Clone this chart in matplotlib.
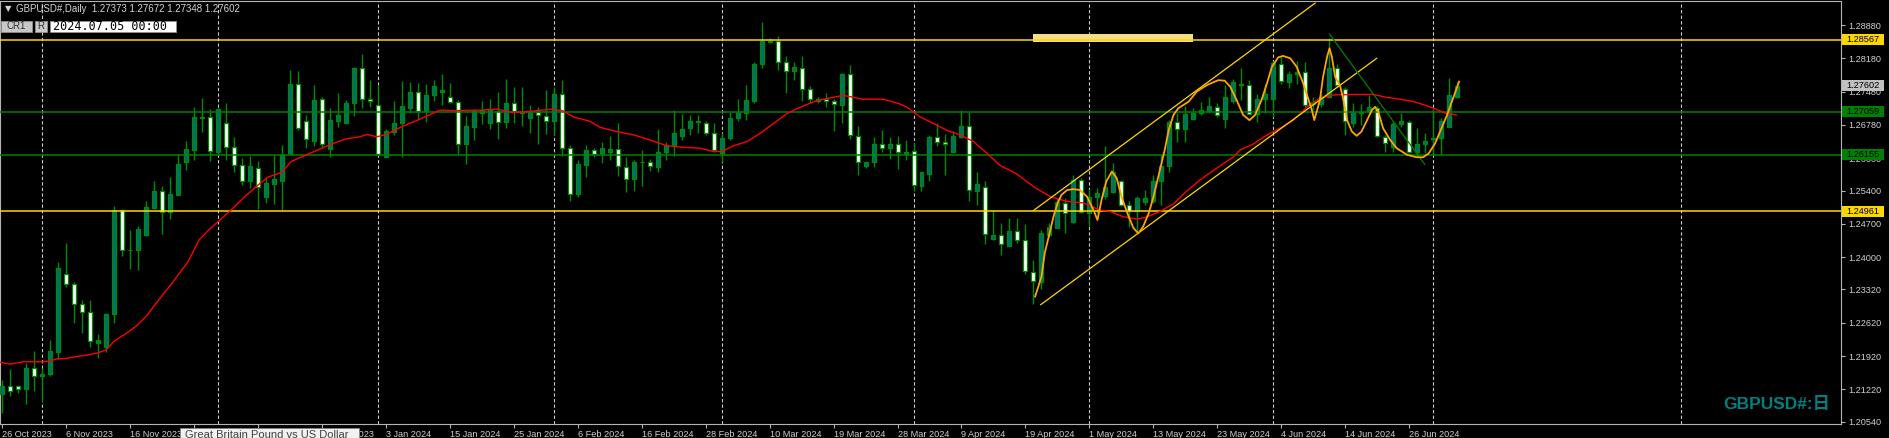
import matplotlib
matplotlib.use('Agg')
import matplotlib.pyplot as plt
import matplotlib.transforms as mtransforms
from matplotlib.patches import Rectangle
import numpy as np

# daily GBPUSD# candles, 26 Oct 2023 .. 5 Jul 2024
opens = [1.2112, 1.2128, 1.2128, 1.2122, 1.2166, 1.2149, 1.2154, 1.2201, 1.2364, 1.2343,
         1.2301, 1.2284, 1.2219, 1.2210, 1.2280, 1.2499, 1.2414, 1.2414, 1.2447, 1.2504,
         1.2538, 1.2494, 1.2531, 1.2599, 1.2626, 1.2693, 1.2694, 1.2622, 1.2683, 1.2632,
         1.2593, 1.2559, 1.2587, 1.2527, 1.2554, 1.2561, 1.2616, 1.2765, 1.2686, 1.2645,
         1.2732, 1.2627, 1.2687, 1.2683, 1.2723, 1.2797, 1.2732, 1.2719, 1.2611, 1.2664,
         1.2681, 1.2714, 1.2747, 1.2707, 1.2741, 1.2748, 1.2737, 1.2726, 1.2637, 1.2674,
         1.2702, 1.2683, 1.2707, 1.2685, 1.2723, 1.2706, 1.2693, 1.2706, 1.2697, 1.2686,
         1.2743, 1.2629, 1.2532, 1.2593, 1.2625, 1.2618, 1.2620, 1.2627, 1.2590, 1.2564,
         1.2599, 1.2601, 1.2590, 1.2620, 1.2636, 1.2655, 1.2672, 1.2684, 1.2681, 1.2660,
         1.2618, 1.2650, 1.2692, 1.2704, 1.2729, 1.2807, 1.2853, 1.2854, 1.2811, 1.2792,
         1.2797, 1.2753, 1.2729, 1.2732, 1.2728, 1.2720, 1.2784, 1.2655, 1.2592, 1.2599,
         1.2637, 1.2629, 1.2637, 1.2617, 1.2624, 1.2550, 1.2575, 1.2652, 1.2641, 1.2622,
         1.2653, 1.2676, 1.2540, 1.2547, 1.2439, 1.2446, 1.2424, 1.2455, 1.2435, 1.2369,
         1.2348, 1.2447, 1.2462, 1.2513, 1.2473, 1.2562, 1.2492, 1.2526, 1.2529, 1.2536,
         1.2560, 1.2510, 1.2497, 1.2515, 1.2517, 1.2559, 1.2592, 1.2685, 1.2669, 1.2690,
         1.2702, 1.2708, 1.2716, 1.2690, 1.2728, 1.2762, 1.2761, 1.2701, 1.2732, 1.2732,
         1.2805, 1.2769, 1.2785, 1.2789, 1.2722, 1.2722, 1.2737, 1.2797, 1.2753, 1.2681,
         1.2702, 1.2708, 1.2713, 1.2652, 1.2632, 1.2679, 1.2685, 1.2620, 1.2638, 1.2649,
         1.2650, 1.2674, 1.27373]
highs = [1.2142, 1.2164, 1.2131, 1.2177, 1.2203, 1.2166, 1.2226, 1.2390, 1.2430, 1.2347,
         1.2310, 1.2310, 1.2238, 1.2282, 1.2508, 1.2501, 1.2457, 1.2466, 1.2517, 1.2561,
         1.2550, 1.2569, 1.2616, 1.2644, 1.2716, 1.2734, 1.2712, 1.2713, 1.2724, 1.2653,
         1.2608, 1.2613, 1.2602, 1.2568, 1.2615, 1.2636, 1.2793, 1.2791, 1.2699, 1.2762,
         1.2736, 1.2713, 1.2746, 1.2730, 1.2800, 1.2827, 1.2772, 1.2761, 1.2669, 1.2729,
         1.2770, 1.2768, 1.2767, 1.2765, 1.2772, 1.2785, 1.2767, 1.2730, 1.2697, 1.2711,
         1.2728, 1.2732, 1.2748, 1.2774, 1.2758, 1.2758, 1.2720, 1.2716, 1.2751, 1.2758,
         1.2772, 1.2636, 1.2604, 1.2636, 1.2629, 1.2643, 1.2655, 1.2683, 1.2610, 1.2604,
         1.2625, 1.2606, 1.2669, 1.2643, 1.2709, 1.2700, 1.2699, 1.2699, 1.2687, 1.2681,
         1.2660, 1.2706, 1.2732, 1.2762, 1.2811, 1.2894, 1.2860, 1.2864, 1.2823, 1.2811,
         1.2823, 1.2760, 1.2737, 1.2746, 1.2732, 1.2788, 1.2803, 1.2676, 1.2601, 1.2652,
         1.2667, 1.2653, 1.2655, 1.2646, 1.2639, 1.2578, 1.2657, 1.2683, 1.2658, 1.2665,
         1.2709, 1.2706, 1.2578, 1.2559, 1.2499, 1.2471, 1.2483, 1.2483, 1.2470, 1.2394,
         1.2458, 1.2471, 1.2524, 1.2524, 1.2573, 1.2566, 1.2543, 1.2545, 1.2634, 1.2597,
         1.2562, 1.2517, 1.2529, 1.2541, 1.2573, 1.2615, 1.2688, 1.2702, 1.2718, 1.2713,
         1.2727, 1.2737, 1.2723, 1.2762, 1.2774, 1.2797, 1.2772, 1.2744, 1.2765, 1.2812,
         1.2820, 1.2792, 1.2812, 1.2811, 1.2737, 1.2744, 1.2860, 1.2807, 1.2757, 1.2723,
         1.2722, 1.2741, 1.2718, 1.2657, 1.2685, 1.2702, 1.2688, 1.2671, 1.2662, 1.2711,
         1.2693, 1.2776, 1.27672]
lows = [1.2072, 1.2107, 1.2115, 1.2091, 1.2119, 1.2096, 1.2151, 1.2185, 1.2338, 1.2262,
        1.2241, 1.2212, 1.2187, 1.2201, 1.2261, 1.2403, 1.2375, 1.2373, 1.2445, 1.2501,
        1.2449, 1.2480, 1.2530, 1.2583, 1.2604, 1.2664, 1.2603, 1.2615, 1.2604, 1.2578,
        1.2551, 1.2545, 1.2502, 1.2513, 1.2512, 1.2499, 1.2615, 1.2667, 1.2629, 1.2634,
        1.2629, 1.2611, 1.2674, 1.2681, 1.2697, 1.2713, 1.2716, 1.2615, 1.2610, 1.2657,
        1.2611, 1.2704, 1.2688, 1.2685, 1.2728, 1.2720, 1.2723, 1.2617, 1.2596, 1.2646,
        1.2679, 1.2669, 1.2648, 1.2671, 1.2681, 1.2676, 1.2660, 1.2638, 1.2659, 1.2657,
        1.2613, 1.2519, 1.2527, 1.2569, 1.2611, 1.2597, 1.2604, 1.2571, 1.2536, 1.2540,
        1.2550, 1.2582, 1.2578, 1.2604, 1.2613, 1.2646, 1.2657, 1.2660, 1.2657, 1.2622,
        1.2599, 1.2646, 1.2687, 1.2688, 1.2723, 1.2797, 1.2851, 1.2793, 1.2746, 1.2772,
        1.2728, 1.2725, 1.2725, 1.2716, 1.2666, 1.2683, 1.2649, 1.2573, 1.2588, 1.2590,
        1.2622, 1.2606, 1.2585, 1.2604, 1.2540, 1.2540, 1.2560, 1.2634, 1.2573, 1.2620,
        1.2650, 1.2519, 1.2510, 1.2427, 1.2436, 1.2404, 1.2423, 1.2430, 1.2365, 1.2301,
        1.2332, 1.2442, 1.2461, 1.2450, 1.2471, 1.2492, 1.2466, 1.2492, 1.2522, 1.2534,
        1.2508, 1.2464, 1.2450, 1.2510, 1.2513, 1.2510, 1.2578, 1.2643, 1.2643, 1.2688,
        1.2699, 1.2702, 1.2695, 1.2672, 1.2723, 1.2730, 1.2699, 1.2685, 1.2702, 1.2694,
        1.2765, 1.2755, 1.2765, 1.2716, 1.2709, 1.2716, 1.2734, 1.2758, 1.2657, 1.2674,
        1.2678, 1.2702, 1.2653, 1.2620, 1.2622, 1.2674, 1.2618, 1.2611, 1.2618, 1.2617,
        1.2617, 1.2673, 1.27348]
closes = [1.2129, 1.2119, 1.2123, 1.2166, 1.2150, 1.2154, 1.2203, 1.2377, 1.2343, 1.2301,
          1.2284, 1.2224, 1.2226, 1.2280, 1.2499, 1.2416, 1.2416, 1.2459, 1.2505, 1.2539,
          1.2494, 1.2533, 1.2596, 1.2627, 1.2695, 1.2694, 1.2623, 1.2711, 1.2632, 1.2593,
          1.2559, 1.2592, 1.2548, 1.2555, 1.2564, 1.2615, 1.2765, 1.2671, 1.2648, 1.2730,
          1.2637, 1.2688, 1.2699, 1.2724, 1.2797, 1.2732, 1.2728, 1.2616, 1.2665, 1.2682,
          1.2718, 1.2747, 1.2708, 1.2741, 1.2760, 1.2751, 1.2726, 1.2637, 1.2676, 1.2707,
          1.2709, 1.2711, 1.2685, 1.2723, 1.2707, 1.2702, 1.2706, 1.2698, 1.2687, 1.2743,
          1.2629, 1.2532, 1.2595, 1.2625, 1.2617, 1.2630, 1.2627, 1.2592, 1.2564, 1.2599,
          1.2601, 1.2592, 1.2622, 1.2636, 1.2660, 1.2669, 1.2686, 1.2686, 1.2660, 1.2625,
          1.2650, 1.2692, 1.2706, 1.2730, 1.2807, 1.2855, 1.2855, 1.2811, 1.2792, 1.2799,
          1.2753, 1.2732, 1.2732, 1.2728, 1.2722, 1.2784, 1.2657, 1.2599, 1.2599, 1.2637,
          1.2629, 1.2637, 1.2620, 1.2620, 1.2552, 1.2578, 1.2652, 1.2641, 1.2637, 1.2655,
          1.2676, 1.2541, 1.2554, 1.2449, 1.2446, 1.2427, 1.2455, 1.2437, 1.2371, 1.2349,
          1.2450, 1.2463, 1.2515, 1.2492, 1.2562, 1.2494, 1.2527, 1.2534, 1.2547, 1.2580,
          1.2510, 1.2498, 1.2525, 1.2524, 1.2559, 1.2592, 1.2685, 1.2669, 1.2701, 1.2704,
          1.2709, 1.2718, 1.2699, 1.2736, 1.2768, 1.2764, 1.2701, 1.2732, 1.2742, 1.2808,
          1.2770, 1.2786, 1.2790, 1.2720, 1.2727, 1.2737, 1.2797, 1.2762, 1.2686, 1.2706,
          1.2706, 1.2715, 1.2655, 1.2639, 1.2680, 1.2686, 1.2620, 1.2638, 1.2644, 1.2650,
          1.2686, 1.2740, 1.27602]

date_ticks = list(range(0, 177, 8))
# labels at bars 24 and 32 are hidden under the symbol tooltip in the reference
date_labels = ['26 Oct 2023', '6 Nov 2023', '16 Nov 2023', '', '',
               '20 Dec 2023', '3 Jan 2024', '15 Jan 2024', '25 Jan 2024', '6 Feb 2024',
               '16 Feb 2024', '28 Feb 2024', '10 Mar 2024', '19 Mar 2024', '28 Mar 2024',
               '9 Apr 2024', '19 Apr 2024', '1 May 2024', '13 May 2024', '23 May 2024',
               '4 Jun 2024', '14 Jun 2024', '26 Jun 2024']
month_grid = [5, 27, 47, 69, 90, 114, 136, 159, 179, 210]
price_ticks = [1.28880, 1.28180, 1.27480, 1.26780, 1.26080, 1.25400, 1.24700,
               1.24000, 1.23320, 1.22620, 1.21920, 1.21220, 1.20540]

# red moving average
ma_bar = [-0.2, 1.1, 2.7, 4.0, 5.2, 6.1, 6.9, 8.1, 9.4, 10.7, 11.9, 13.1, 14.0, 15.7, 17.0,
          18.2, 19.0, 21.3, 23.3, 24.7, 25.9, 28.5, 30.4, 32.1, 33.3, 35.0, 36.2, 38.1, 41.0,
          42.9, 44.8, 45.7, 46.9, 48.1, 50.0, 52.0, 53.9, 54.8, 56.7, 59.6, 62.0, 63.9, 65.8,
          68.7, 70.1, 71.6, 73.5, 74.8, 76.9, 79.0, 81.1, 83.2, 85.2, 87.3, 89.0, 90.0, 91.5,
          93.2, 94.8, 96.5, 98.2, 99.8, 101.9, 104.0, 105.2, 106.5, 107.7, 110.2, 112.3, 113.2,
          114.0, 114.8, 116.5, 118.1, 119.8, 121.5, 123.2, 124.8, 126.9, 129.0, 131.1, 133.2,
          135.2, 137.3, 138.6, 140.2, 141.9, 143.1, 144.8, 146.5, 148.1, 149.8, 151.9, 154.0,
          154.8, 156.5, 158.2, 159.8, 161.5, 163.2, 164.8, 166.5, 169.0, 171.5, 173.1, 174.8,
          176.5, 178.2, 179.0, 180.6, 181.9]
ma_price = [1.2179, 1.2175, 1.2180, 1.2180, 1.2180, 1.2182, 1.2186, 1.2187, 1.2191, 1.2194,
            1.2198, 1.2205, 1.2222, 1.2241, 1.2257, 1.2278, 1.2296, 1.2345, 1.2390, 1.2436,
            1.2457, 1.2496, 1.2527, 1.2552, 1.2568, 1.2578, 1.2601, 1.2615, 1.2636, 1.2648,
            1.2653, 1.2658, 1.2653, 1.2658, 1.2674, 1.2688, 1.2702, 1.2709, 1.2708, 1.2709,
            1.2711, 1.2704, 1.2706, 1.2711, 1.2708, 1.2694, 1.2686, 1.2673, 1.2664, 1.2657,
            1.2646, 1.2634, 1.2631, 1.2629, 1.2622, 1.2622, 1.2634, 1.2643, 1.2660, 1.2681,
            1.2702, 1.2715, 1.2729, 1.2736, 1.2740, 1.2736, 1.2732, 1.2732, 1.2722, 1.2715,
            1.2705, 1.2695, 1.2681, 1.2667, 1.2657, 1.2643, 1.2618, 1.2593, 1.2575, 1.2548,
            1.2527, 1.2517, 1.2514, 1.2499, 1.2496, 1.2485, 1.2480, 1.2484, 1.2496, 1.2512,
            1.2538, 1.2562, 1.2587, 1.2611, 1.2625, 1.2638, 1.2657, 1.2671, 1.2688, 1.2716,
            1.2734, 1.2741, 1.2742, 1.2742, 1.2736, 1.2732, 1.2727, 1.2718, 1.2713, 1.2702,
            1.2699]

# orange smoothed swing line
wave_bar = [129.2, 129.6, 130.0, 130.4, 131.0, 131.5, 132.0, 132.5, 133.2, 134.0, 134.8,
            135.7, 136.5, 137.0, 137.5, 138.1, 138.8, 139.4, 140.0, 140.9, 141.5, 142.1,
            142.7, 143.4, 144.0, 144.8, 145.4, 145.9, 146.5, 147.1, 148.4, 149.4, 150.7,
            152.1, 152.9, 153.6, 154.4, 155.2, 156.0, 156.7, 157.5, 158.2, 158.8, 159.6,
            160.2, 161.1, 161.9, 162.7, 163.4, 163.8, 164.1, 164.8, 165.2, 165.7, 166.0,
            166.3, 166.7, 167.3, 167.7, 168.2, 168.8, 169.4, 170.0, 170.7, 171.3, 171.7,
            172.1, 172.7, 173.6, 174.4, 175.7, 176.9, 177.7, 178.4, 179.2, 180.0, 180.7,
            181.3, 182.2]
wave_price = [1.2317, 1.2338, 1.2359, 1.2408, 1.2450, 1.2485, 1.2513, 1.2531, 1.2541,
              1.2543, 1.2541, 1.2527, 1.2499, 1.2478, 1.2520, 1.2559, 1.2580, 1.2566,
              1.2527, 1.2485, 1.2461, 1.2450, 1.2464, 1.2492, 1.2527, 1.2583, 1.2625,
              1.2667, 1.2699, 1.2713, 1.2727, 1.2748, 1.2762, 1.2772, 1.2771, 1.2758,
              1.2730, 1.2699, 1.2688, 1.2699, 1.2730, 1.2766, 1.2800, 1.2820, 1.2823,
              1.2818, 1.2800, 1.2766, 1.2730, 1.2709, 1.2688, 1.2730, 1.2779, 1.2821,
              1.2839, 1.2821, 1.2779, 1.2762, 1.2734, 1.2688, 1.2664, 1.2655, 1.2664,
              1.2688, 1.2709, 1.2716, 1.2706, 1.2671, 1.2646, 1.2629, 1.2615, 1.2610,
              1.2610, 1.2618, 1.2639, 1.2671, 1.2699, 1.2727, 1.2769]

channel_up = ([129.0, 164.2], [1.2498, 1.2934])
channel_low = ([129.9, 171.9], [1.2300, 1.2818])
trend_green = ([166.0, 177.9], [1.2869, 1.2595])
highlight = (128.9, 148.9, 1.28516, 1.28690)

levels_yellow = [1.28567, 1.24961]
levels_green = [1.27059, 1.26155]
last_price = 1.27602

plt.rcParams['font.family'] = ['Liberation Sans', 'DejaVu Sans']

W, H = 1890, 438
fig = plt.figure(figsize=(W / 100, H / 100), dpi=100, facecolor='black')
ax = fig.add_axes([0, 14 / H, 1841 / W, 423 / H], facecolor='black')

n = len(opens)
idx = np.arange(n)
o = np.array(opens)
c = np.array(closes)
bull = c >= o
green = '#008c00'

for b in month_grid:
    ax.axvline(b, color='#c8c8c8', lw=0.8, ls=(0, (3, 2)), zorder=1)

ax.vlines(idx, lows, highs, color=green, lw=1.0, zorder=3)
body_lo = np.minimum(o, c)
body_h = np.maximum(np.abs(c - o), 1e-6)
ax.bar(idx, body_h, bottom=body_lo, width=0.5,
       color=np.where(bull, '#006e6e', '#ffffff'), edgecolor=green, linewidth=0.9, zorder=4)

x0, x1, y0, y1 = highlight
ax.add_patch(Rectangle((x0, y0), x1 - x0, y1 - y0, facecolor='#f3de86', edgecolor='none', zorder=2))
for lv in levels_yellow:
    ax.axhline(lv, color='#ffd700', lw=1.1, zorder=5)
for lv in levels_green:
    ax.axhline(lv, color='#008000', lw=1.1, zorder=5)

ax.plot(ma_bar, ma_price, color='#ff0000', lw=1.0, zorder=6)
ax.plot(*channel_up, color='#ffd700', lw=0.9, zorder=6)
ax.plot(*channel_low, color='#ffd700', lw=0.9, zorder=6)
ax.plot(*trend_green, color='#008000', lw=0.9, zorder=6)
ax.plot(wave_bar, wave_price, color='#ffa500', lw=1.3, zorder=7)

ax.set_xlim(-0.19, 229.94)
ax.set_ylim(1.20491, 1.29385)

for s in ax.spines.values():
    s.set_color('#b4b4b4')
    s.set_linewidth(0.8)

ax.yaxis.tick_right()
ax.set_yticks(price_ticks)
ax.set_yticklabels([f'{v:.5f}' for v in price_ticks])
ax.set_xticks(date_ticks)
ax.set_xticklabels(date_labels, ha='left')
ax.tick_params(axis='both', colors='#b4b4b4', labelcolor='#d0d0d0', labelsize=6.6, length=3, width=0.8, pad=2)
ax.tick_params(axis='x', pad=1.5)

# price tags on the right scale
trans = mtransforms.blended_transform_factory(ax.transAxes, ax.transData)
box_h = 11 * (1.29385 - 1.20491) / 423
tags = [(levels_yellow[0], '#ffd700'), (last_price, '#c0c0c0'), (levels_green[0], '#008000'),
        (levels_green[1], '#008000'), (levels_yellow[1], '#ffd700')]
for val, col in tags:
    ax.add_patch(Rectangle((1 + 1 / 1841, val - box_h / 2), 42 / 1841, box_h, transform=trans,
                           facecolor=col, edgecolor='none', clip_on=False, zorder=8))
    ax.text(1 + 5 / 1841, val, f'{val:.5f}', transform=trans, ha='left', va='center',
            fontsize=6.6, color='#000000', clip_on=False, zorder=9)


def fx(px):
    return px / W


def fy(py):
    return 1 - py / H


fig.text(fx(5), fy(9), '▼', color='#d4d4d4', fontsize=6, ha='left', va='center', family='DejaVu Sans')
fig.text(fx(16), fy(9), 'GBPUSD#,Daily  1.27373 1.27672 1.27348 1.27602', color='#d4d4d4',
         fontsize=7, ha='left', va='center')
for bx0, bx1, label in [(1, 32, 'CR1'), (35, 47, 'R')]:
    fig.patches.append(Rectangle((fx(bx0), fy(32)), fx(bx1 - bx0), 11 / H, transform=fig.transFigure,
                                 facecolor='#c8c8c8', edgecolor='#909090', lw=0.6))
    fig.text(fx((bx0 + bx1) / 2), fy(26.3), label, color='#303030', fontsize=7, ha='center', va='center')
fig.patches.append(Rectangle((fx(50), fy(32)), fx(126), 11.5 / H, transform=fig.transFigure,
                             facecolor='#ffffff', edgecolor='#909090', lw=0.6))
fig.text(fx(53), fy(26.3), '2024.07.05 00:00', color='#000000', fontsize=8.5, ha='left',
         va='center', family='DejaVu Sans Mono')

fig.text(fx(1830), fy(405), 'GBPUSD#:日', color='#008080', fontsize=12.5, fontweight='bold',
         ha='right', va='center', family=['Liberation Sans', 'Noto Sans CJK JP'])

fig.patches.append(Rectangle((fx(180), 0), fx(179), 10.5 / H, transform=fig.transFigure,
                             facecolor='#f2f2f2', edgecolor='#808080', lw=0.6))
fig.text(fx(185), fy(430), 'Great Britain Pound vs US Dollar', color='#404040', fontsize=8,
         ha='left', va='top')

fig.savefig('out.png', dpi=100, facecolor='black')
